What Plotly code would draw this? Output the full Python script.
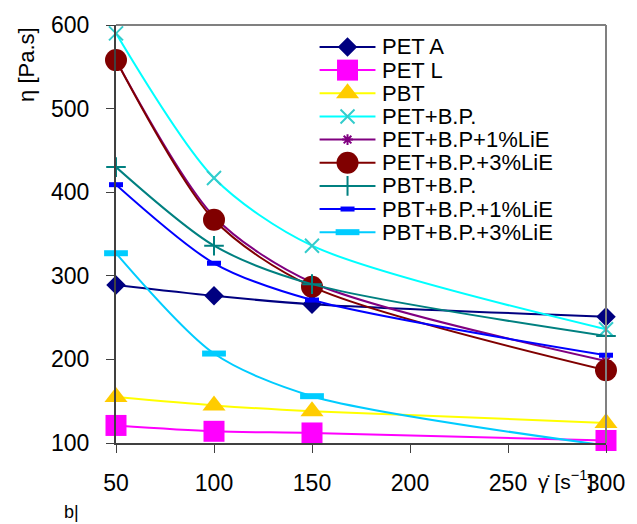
import plotly.graph_objects as go

# ---- data ----
shear_rate = [50, 100, 150, 300]
series_names = ["PET A", "PET L", "PBT", "PET+B.P.", "PET+B.P+1%LiE",
                "PET+B.P.+3%LiE", "PBT+B.P.", "PBT+B.P.+1%LiE", "PBT+B.P.+3%LiE"]
pet_a = [289, 276, 266, 251]
pet_l = [121, 114, 112, 103]
pbt = [155, 145, 138, 124]
pet_bp = [590, 417, 336, 236]
pet_bp_1lie = [558, 371, 292, 198]
pet_bp_3lie = [558, 367, 287, 187]
pbt_bp = [430, 336, 290, 228]
pbt_bp_1lie = [409, 315, 271, 205]
pbt_bp_3lie = [327, 207, 156, 97]
y_ticks = [100, 200, 300, 400, 500, 600]
x_ticks = [50, 100, 150, 200, 250, 300]

values = [pet_a, pet_l, pbt, pet_bp, pet_bp_1lie, pet_bp_3lie, pbt_bp, pbt_bp_1lie, pbt_bp_3lie]

# styles: (line colour, marker symbol, marker size, marker colour, marker line width)
styles = [
    ("#000080", "diamond", 15, "#000080", 0),
    ("#FF00FF", "square", 21, "#FF00FF", 0),
    ("#FFFF00", "triangle-up", 20, "#FFCC00", 0),
    ("#00FFFF", "x-thin-open", 14, "#33CCCC", 2),
    ("#800080", "asterisk-open", 9, "#800080", 2),
    ("#800000", "circle", 22, "#800000", 0),
    ("#008080", "cross-thin-open", 14, "#008080", 2),
    ("#0000FF", "line-ew-open", 10, "#0000FF", 5),
    ("#00CCFF", "line-ew-open", 17, "#00CCFF", 6),
]

FONT = "Arial, Liberation Sans, sans-serif"
fig = go.Figure()

for name, vals, st in zip(series_names, values, styles):
    lc, sym, sz, mc, mlw = st
    marker = dict(symbol=sym, size=sz, color=mc)
    marker["line"] = dict(color=mc, width=mlw) if mlw else dict(width=0)
    fig.add_trace(go.Scatter(
        x=shear_rate, y=vals, name=name, mode="lines+markers",
        line=dict(color=lc, width=2, shape="spline", smoothing=0.8),
        marker=marker, showlegend=False, cliponaxis=False,
        xaxis="x", yaxis="y"))

# ---- manual legend on a pixel-coordinate overlay axis ----
L, R, T, B = 116, 607, 18.7, 443
row0, row_gap = 41, 23.5
for i, (name, st) in enumerate(zip(series_names, styles)):
    lc, sym, sz, mc, mlw = st
    yy = row0 + row_gap * i
    fig.add_trace(go.Scatter(x=[320, 376], y=[yy, yy], mode="lines",
                             line=dict(color=lc, width=2), showlegend=False,
                             hoverinfo="skip", xaxis="x2", yaxis="y2", cliponaxis=False))
    marker = dict(symbol=sym, size=sz, color=mc)
    marker["line"] = dict(color=mc, width=mlw) if mlw else dict(width=0)
    fig.add_trace(go.Scatter(x=[348], y=[yy], mode="markers", marker=marker,
                             showlegend=False, hoverinfo="skip",
                             xaxis="x2", yaxis="y2", cliponaxis=False))
    fig.add_annotation(x=381, y=yy, xref="x2", yref="y2", text=name,
                       showarrow=False, xanchor="left", yanchor="middle",
                       font=dict(family=FONT, size=22, color="black"))

W, H = 637, 524
def px(xp):
    return (xp - L) / (R - L)
def py(yp):
    return (B - yp) / (B - T)

fig.add_annotation(x=px(27), y=py(59), xref="paper", yref="paper",
                   text="η [Pa.s]", textangle=-90, showarrow=False,
                   xanchor="center", yanchor="middle",
                   font=dict(family=FONT, size=22, color="black"))
fig.add_annotation(x=px(537), y=py(481), xref="paper", yref="paper",
                   text="γ\u0307 [s<sup>−1</sup>]", showarrow=False,
                   xanchor="left", yanchor="middle",
                   font=dict(family=FONT, size=21, color="black"))
fig.add_annotation(x=px(62), y=py(513), xref="paper", yref="paper",
                   text="b|", showarrow=False, xanchor="left", yanchor="middle",
                   font=dict(family=FONT, size=18, color="black"))

# top and right border
fig.add_shape(type="line", xref="paper", yref="paper", x0=0, x1=1, y0=1, y1=1,
              line=dict(color="#808080", width=2))
fig.add_shape(type="line", xref="paper", yref="paper", x0=1, x1=1, y0=0, y1=1,
              line=dict(color="#808080", width=2))

fig.update_layout(
    width=W, height=H,
    margin=dict(l=L, r=W - R, t=T, b=H - B),
    paper_bgcolor="white", plot_bgcolor="white",
    font=dict(family=FONT, size=23, color="black"),
    xaxis=dict(range=[50, 300], tickvals=x_ticks, ticks="outside", ticklen=8,
               tickcolor="#404040", showline=True, linecolor="#404040", linewidth=2,
               showgrid=False, zeroline=False, ticklabelstandoff=10,
               tickfont=dict(family=FONT, size=23, color="black")),
    yaxis=dict(range=[100, 600], tickvals=y_ticks, ticks="outside", ticklen=8,
               tickcolor="#404040", showline=True, linecolor="#404040", linewidth=2,
               showgrid=False, zeroline=False, ticklabelstandoff=12,
               tickfont=dict(family=FONT, size=23, color="black")),
    xaxis2=dict(range=[L, R], overlaying="x", visible=False, fixedrange=True),
    yaxis2=dict(range=[B, T], overlaying="y", visible=False, fixedrange=True),
)

fig.write_html("out.html")
